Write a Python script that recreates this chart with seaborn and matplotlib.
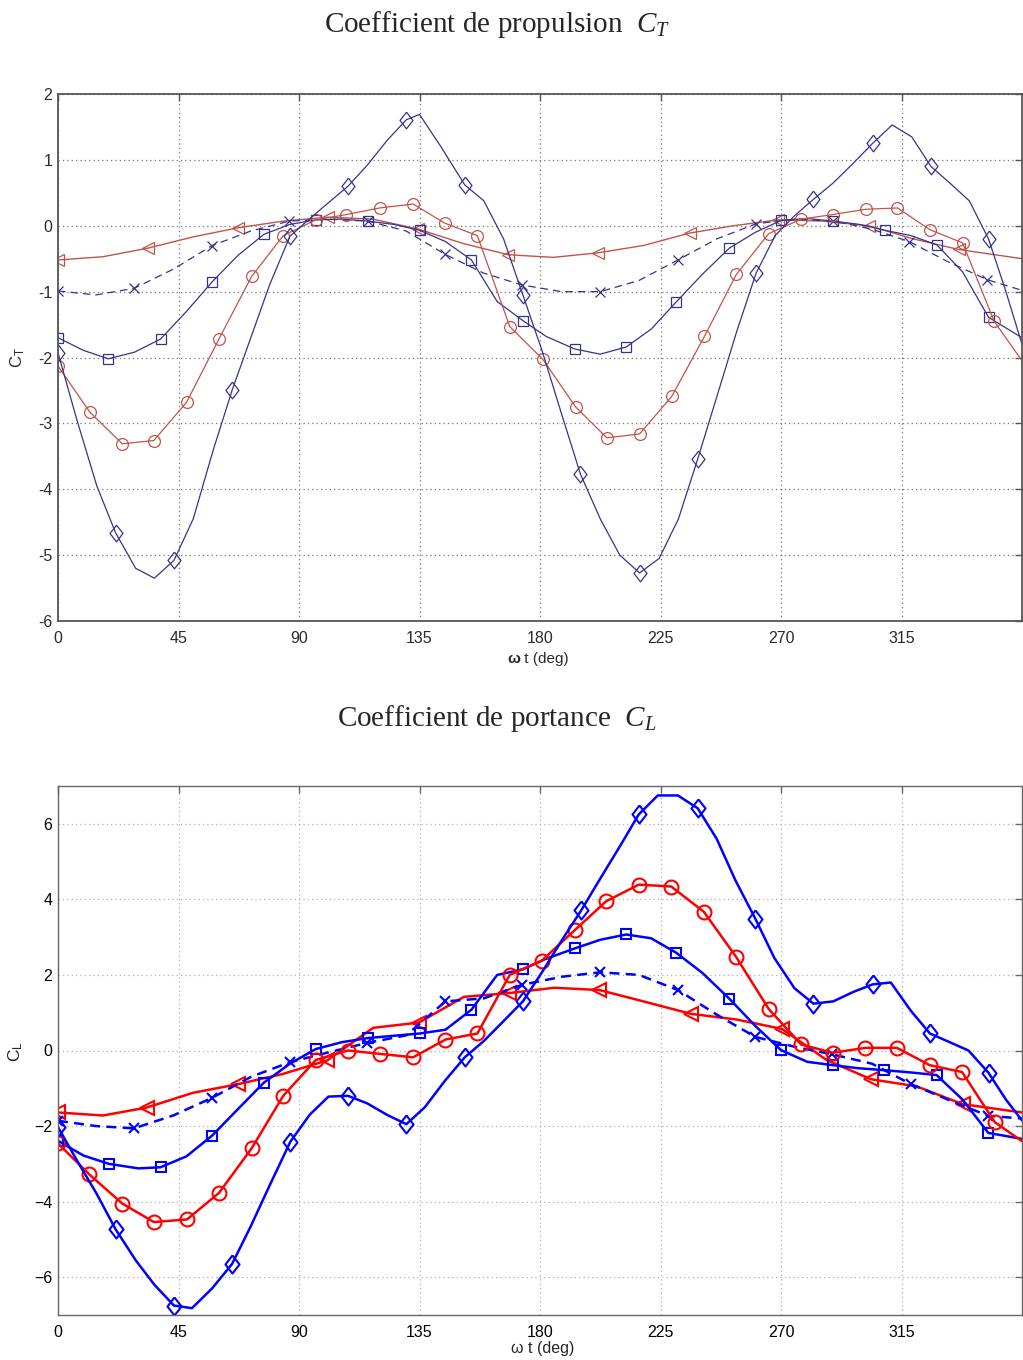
import matplotlib
matplotlib.use("Agg")
import matplotlib.pyplot as plt
import seaborn as sns
import pandas as pd

# ---------------- thrust coefficient C_T ----------------
ct_diamond_deg = [0, 7, 14.5, 21.5, 29, 36, 43.3, 50.5, 58, 65, 72, 79, 86.6, 93.8, 101, 108.3,
                  115.5, 123, 130.1, 135, 143, 151.9, 159, 166.4, 173.6, 180.8, 188, 195.1, 202.5,
                  209.8, 217.2, 224.5, 231.7, 238.9, 246, 253.5, 260.7, 267.8, 275, 282.1, 289.5,
                  297, 304.2, 311.5, 318.8, 326, 333, 340.3, 347.5, 354, 360]
ct_diamond = [-1.93, -2.94, -3.95, -4.66, -5.2, -5.35, -5.08, -4.45, -3.4, -2.5, -1.7, -0.9, -0.16,
              0.1, 0.35, 0.6, 0.92, 1.3, 1.61, 1.69, 1.2, 0.62, 0.38, -0.2, -1.05, -1.9, -2.85,
              -3.77, -4.45, -5.0, -5.27, -5.05, -4.45, -3.54, -2.6, -1.6, -0.72, -0.15, 0.15, 0.40,
              0.65, 0.95, 1.25, 1.53, 1.35, 0.90, 0.65, 0.38, -0.2, -1.0, -1.8]

ct_circle_deg = [0, 11.9, 24, 35.8, 48, 60.1, 72.3, 84.1, 96.3, 107.7, 120.1, 132.6, 144.4, 156.6,
                 168.7, 181.1, 193.3, 205, 217.2, 229.2, 241.4, 253.3, 265.4, 277.5, 289.3, 301.7,
                 313.5, 325.6, 337.8, 349.6, 360]
ct_circle = [-2.13, -2.83, -3.31, -3.26, -2.68, -1.72, -0.77, -0.15, 0.09, 0.17, 0.27, 0.33, 0.04,
             -0.15, -1.53, -2.03, -2.75, -3.22, -3.16, -2.59, -1.68, -0.74, -0.12, 0.10, 0.17, 0.25,
             0.27, -0.06, -0.26, -1.45, -2.05]

ct_square_deg = [0, 9.4, 18.8, 28.5, 38.3, 48, 57.6, 67.2, 76.9, 86.6, 96.3, 106, 115.8, 125.4,
                 135.1, 144.7, 154.4, 164, 173.6, 182.3, 192.9, 202.5, 212.2, 221.5, 230.8, 240.8,
                 250.7, 260.4, 270, 279.8, 289.6, 299.3, 309, 318.6, 328.2, 337.8, 347.5, 360]
ct_square = [-1.70, -1.89, -2.02, -1.92, -1.72, -1.30, -0.85, -0.45, -0.13, 0.02, 0.09, 0.10, 0.07,
             0.02, -0.07, -0.24, -0.52, -1.15, -1.44, -1.68, -1.87, -1.95, -1.84, -1.57, -1.16,
             -0.73, -0.34, -0.10, 0.08, 0.11, 0.07, 0.02, -0.07, -0.15, -0.29, -0.70, -1.39, -1.70]

ct_cross_deg = [0, 14.2, 28.4, 43, 57.6, 72, 86.3, 101, 115.8, 130, 144.4, 159, 173.4, 188, 202.5,
                217, 231.5, 246, 260.7, 275, 289.6, 303.8, 317.9, 332.5, 347.1, 360]
ct_cross = [-0.99, -1.05, -0.95, -0.66, -0.30, -0.08, 0.07, 0.10, 0.07, -0.08, -0.43, -0.72, -0.90,
            -1.0, -1.0, -0.83, -0.52, -0.2, 0.03, 0.1, 0.07, -0.05, -0.24, -0.55, -0.82, -0.98]

ct_triangle_deg = [0, 16.8, 33.6, 50.4, 67.3, 84, 100.9, 117.7, 134.5, 151.3, 168.2, 185, 201.8,
                   218.6, 236, 252.2, 269, 285.8, 302.7, 319.5, 336.3, 360]
ct_triangle = [-0.52, -0.47, -0.34, -0.17, -0.03, 0.07, 0.13, 0.1, -0.05, -0.27, -0.44, -0.48, -0.41,
               -0.3, -0.11, 0.0, 0.09, 0.07, 0.0, -0.2, -0.36, -0.5]

# ---------------- lift coefficient C_L ----------------
cl_diamond_deg = [0, 7, 14.5, 21.5, 29, 36, 43.3, 50, 57.5, 65, 72, 79.5, 86.8, 94, 101, 108.3,
                  115.5, 122.8, 130.1, 137, 144.5, 151.9, 159, 166, 173.6, 181, 188, 195.4, 202.5,
                  209.8, 216.9, 224, 231.5, 238.9, 246, 253, 260.4, 267.5, 275, 282.1, 289.5, 297,
                  304.2, 311, 318.5, 325.6, 333, 340, 347.5, 354, 360]
cl_diamond = [-2.03, -2.9, -3.8, -4.73, -5.55, -6.2, -6.75, -6.82, -6.3, -5.65, -4.65, -3.5, -2.41,
              -1.7, -1.22, -1.2, -1.4, -1.7, -1.95, -1.5, -0.8, -0.18, 0.25, 0.75, 1.30, 2.1, 2.9,
              3.71, 4.55, 5.4, 6.25, 6.75, 6.75, 6.41, 5.6, 4.5, 3.49, 2.45, 1.65, 1.24, 1.3, 1.55,
              1.75, 1.8, 1.05, 0.45, 0.22, 0.0, -0.59, -1.3, -1.85]

cl_circle_deg = [0, 11.7, 24, 35.8, 48.2, 60.1, 72.3, 84.1, 96.3, 108.3, 120.4, 132.6, 144.7, 156.6,
                 168.7, 180.7, 192.9, 204.7, 216.9, 229, 241.2, 253.2, 265.4, 277.5, 289.3, 301.5,
                 313.3, 325.6, 337.6, 349.9, 360]
cl_circle = [-2.46, -3.28, -4.05, -4.54, -4.47, -3.77, -2.59, -1.2, -0.25, 0.0, -0.09, -0.18, 0.29,
             0.45, 2.0, 2.38, 3.18, 3.95, 4.39, 4.34, 3.67, 2.48, 1.1, 0.16, -0.06, 0.07, 0.07,
             -0.39, -0.57, -1.9, -2.4]

cl_square_deg = [0, 9.5, 19, 30, 38.3, 48, 57.6, 67.2, 76.9, 86.6, 96.3, 106, 115.8, 125.4, 135.1,
                 144.7, 154.4, 164, 173.6, 182, 192.9, 202.5, 212.2, 221.5, 230.8, 240.7, 250.7,
                 260.4, 270, 279.8, 289.6, 299, 308.6, 318.3, 328.1, 337.8, 347.4, 360]
cl_square = [-2.39, -2.78, -3.0, -3.12, -3.09, -2.8, -2.25, -1.55, -0.85, -0.35, 0.04, 0.22, 0.33,
             0.39, 0.45, 0.55, 1.08, 2.0, 2.15, 2.42, 2.70, 2.93, 3.07, 2.97, 2.59, 2.05, 1.37, 0.65,
             0.01, -0.3, -0.39, -0.47, -0.52, -0.58, -0.65, -1.3, -2.18, -2.34]

cl_cross_deg = [0, 14.2, 28.4, 43, 57.6, 72, 86.6, 101, 115.4, 130, 144.7, 159, 173.4, 188, 202.5,
                217, 231.5, 246, 260.4, 275, 289.1, 304, 318.5, 333, 347.4, 360]
cl_cross = [-1.86, -2.0, -2.06, -1.72, -1.25, -0.7, -0.31, -0.05, 0.2, 0.4, 1.30, 1.38, 1.74, 1.95,
            2.07, 2.0, 1.6, 0.95, 0.36, 0.1, -0.1, -0.35, -0.89, -1.32, -1.73, -1.8]

cl_triangle_deg = [0, 16.8, 33.1, 50.4, 67.3, 84, 100.6, 117.7, 134.8, 151.6, 168.4, 185.3, 202.2,
                   218.6, 236.4, 253.4, 270.4, 287, 303.6, 320.7, 337.8, 360]
cl_triangle = [-1.64, -1.72, -1.51, -1.12, -0.89, -0.62, -0.26, 0.6, 0.74, 1.42, 1.52, 1.66, 1.6,
               1.3, 0.97, 0.82, 0.57, -0.25, -0.76, -0.95, -1.42, -1.64]

x_ticks = [0, 45, 90, 135, 180, 225, 270, 315]
x_tick_labels = ["0", "45", "90", "135", "180", "225", "270", "315"]
ct_ticks = [-6, -5, -4, -3, -2, -1, 0, 1, 2]
ct_tick_labels = ["-6", "-5", "-4", "-3", "-2", "-1", "0", "1", "2"]
cl_ticks = [-6, -4, -2, 0, 2, 4, 6]
cl_tick_labels = ["\u22126", "\u22124", "\u22122", "0", "2", "4", "6"]

# ---------------- style ----------------
sns.set_theme(style="white")
plt.rcParams.update({
    "font.family": ["Liberation Sans", "DejaVu Sans"],
    "mathtext.fontset": "custom",
    "mathtext.rm": "Liberation Serif",
    "mathtext.it": "Liberation Serif:italic",
    "mathtext.sf": "Liberation Sans",
    "axes.facecolor": "white",
    "figure.facecolor": "white",
})

W, H = 1023, 1360
fig = plt.figure(figsize=(W / 100, H / 100), dpi=100)


def box(left, top, right, bottom):
    return [left / W, 1 - bottom / H, (right - left) / W, (bottom - top) / H]


ax_t = fig.add_axes(box(58, 94, 1022, 621))
ax_l = fig.add_axes(box(58, 786, 1022, 1315))

DIAMOND = [(0, 1), (0.78, 0), (0, -1), (-0.78, 0), (0, 1)]


def draw(ax, deg, val, color, marker, ms, lw, mew, ls, stride):
    df = pd.DataFrame({"deg": deg, "val": val})
    sns.lineplot(data=df, x="deg", y="val", ax=ax, color=color, linewidth=lw, linestyle=ls,
                 marker=marker, markersize=ms, markeredgecolor=color, markerfacecolor="none",
                 markeredgewidth=mew, markevery=slice(0, len(deg) - 1, stride),
                 errorbar=None, sort=False, legend=False)


# thrust panel: muted colours, thin lines
blue_t, red_t = "#34348c", "#c0544a"
draw(ax_t, ct_triangle_deg, ct_triangle, red_t, "<", 8.5, 1.0, 0.9, "-", 2)
draw(ax_t, ct_cross_deg, ct_cross, blue_t, "x", 7, 0.9, 0.9, (0, (6, 4)), 2)
draw(ax_t, ct_square_deg, ct_square, blue_t, "s", 7.5, 0.9, 0.9, "-", 2)
draw(ax_t, ct_circle_deg, ct_circle, red_t, "o", 8.5, 0.9, 0.9, "-", 1)
draw(ax_t, ct_diamond_deg, ct_diamond, blue_t, DIAMOND, 12, 0.9, 0.9, "-", 3)

# lift panel: saturated colours, thick lines
blue_l, red_l = "#0000ff", "#ff0000"
draw(ax_l, cl_triangle_deg, cl_triangle, red_l, "<", 10, 1.8, 1.5, "-", 2)
draw(ax_l, cl_cross_deg, cl_cross, blue_l, "x", 7.5, 1.8, 1.5, (0, (4, 2.5)), 2)
draw(ax_l, cl_square_deg, cl_square, blue_l, "s", 7, 1.8, 1.5, "-", 2)
draw(ax_l, cl_circle_deg, cl_circle, red_l, "o", 10, 1.8, 1.5, "-", 1)
draw(ax_l, cl_diamond_deg, cl_diamond, blue_l, DIAMOND, 13, 1.8, 1.5, "-", 3)

for ax, ticks, labels, lim, grid_c, spine_c, lab_c in [
        (ax_t, ct_ticks, ct_tick_labels, (-6, 2), "#777777", "#555555", "#2a2a2a"),
        (ax_l, cl_ticks, cl_tick_labels, (-7, 7), "#b0b0b0", "#666666", "black")]:
    ax.set_xlim(0, 360)
    ax.set_ylim(*lim)
    ax.set_xticks(x_ticks)
    ax.set_xticklabels(x_tick_labels)
    ax.set_yticks(ticks)
    ax.set_yticklabels(labels)
    ax.set_xlabel("")
    ax.set_ylabel("")
    ax.set_axisbelow(True)
    ax.grid(True, color=grid_c, linestyle=(0, (1, 2.5)), linewidth=0.9)
    ax.tick_params(direction="in", length=5, width=1, top=True, right=True,
                   labelsize=11.5, colors=spine_c, labelcolor=lab_c)
    ax.tick_params(axis="x", pad=7)
    ax.tick_params(axis="y", pad=4)
    for s in ax.spines.values():
        s.set_visible(True)
        s.set_color(spine_c)
        s.set_linewidth(1.3 if ax is ax_t else 1.0)

# titles
fig.text(497 / W, 1 - 24 / H, "Coefficient de propulsion  $C_T$", family="Liberation Serif",
         fontsize=21, ha="center", va="center")
fig.text(497 / W, 1 - 718 / H, "Coefficient de portance  $C_L$", family="Liberation Serif",
         fontsize=21, ha="center", va="center")

# axis labels
fig.text(520 / W, 1 - 663 / H, "\u03c9", fontweight="bold", fontsize=11, ha="right",
         va="baseline", color="#2a2a2a")
fig.text(520 / W, 1 - 663 / H, " t (deg)", fontsize=11, ha="left", va="baseline", color="#2a2a2a")
fig.text(543 / W, 1 - 1353 / H, "\u03c9 t (deg)", fontsize=11.5, ha="center", va="baseline")
fig.text(18 / W, 1 - 358 / H, r"$\mathsf{C}_\mathsf{T}$", fontsize=12, rotation=90,
         ha="center", va="center", color="#2a2a2a")
fig.text(16 / W, 1 - 1051 / H, r"$\mathsf{C}_\mathsf{L}$", fontsize=12.5, rotation=90,
         ha="center", va="center")

fig.savefig("out.png", dpi=100)
